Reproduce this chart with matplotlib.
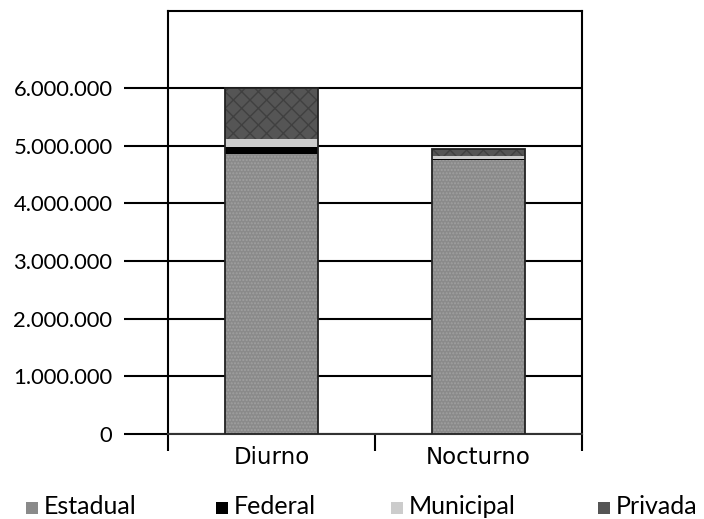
import matplotlib
matplotlib.use("Agg")
import matplotlib.pyplot as plt
from matplotlib.patches import Rectangle
import numpy as np

plt.rcParams["font.family"] = ["Lato", "DejaVu Sans"]

categories = ["Diurno", "Nocturno"]
series = ["Estadual", "Federal", "Municipal", "Privada"]
estadual = [4850000, 4750000]
federal = [130000, 20000]
municipal = [130000, 50000]
privada = [890000, 120000]
values = [estadual, federal, municipal, privada]

face = ["#8a8a8a", "#000000", "#cccccc", "#555555"]
hatch_col = ["#a0a0a0", "#000000", "#cccccc", "#404040"]
hatches = [".....", None, None, "xx"]

yticks = [0, 1000000, 2000000, 3000000, 4000000, 5000000, 6000000]
ytick_labels = ["0", "1.000.000", "2.000.000", "3.000.000", "4.000.000", "5.000.000", "6.000.000"]

fig = plt.figure(figsize=(7.04, 5.19), dpi=100)
ax = fig.add_axes([168 / 704, 1 - 434 / 519, 414 / 704, 423 / 519])

x = np.arange(len(categories))
bottom = np.zeros(len(categories))
for vals, fc, hc, h in zip(values, face, hatch_col, hatches):
    ax.bar(x, vals, width=0.45, bottom=bottom, color=fc, edgecolor=hc,
           hatch=h, linewidth=0, zorder=3)
    bottom += np.array(vals)
# outline of each stacked bar
ax.bar(x, bottom, width=0.45, fill=False, edgecolor="#222222", linewidth=1.3, zorder=4)

ax.set_xlim(-0.5, 1.5)
ax.set_ylim(0, 7335000)

ax.set_yticks(yticks)
ax.set_yticklabels(ytick_labels, fontsize=15.8)
ax.yaxis.grid(True, color="black", linewidth=1.5, zorder=1)
ax.tick_params(axis="y", length=32, width=1.5, pad=8, color="black")

ax.set_xticks(x)
ax.set_xticklabels(categories, fontsize=16.5, family=["DejaVu Sans"])
ax.tick_params(axis="x", length=0, pad=9)
ax.set_xticks([-0.5, 0.5, 1.5], minor=True)
ax.tick_params(axis="x", which="minor", length=12, width=1.5, color="black")

for s in ["top", "left", "right", "bottom"]:
    ax.spines[s].set_linewidth(1.5)
    ax.spines[s].set_color("black")
ax.spines["bottom"].set_color("#333333")

# legend along the bottom (text sits on the lower edge, as in the original)
leg_x = [26, 216, 391, 598]
for px, name, fc in zip(leg_x, series, face):
    fig.patches.append(Rectangle((px / 704, 1 - 514 / 519), 12 / 704, 12 / 519,
                                 transform=fig.transFigure, facecolor=fc,
                                 edgecolor="none"))
    fig.text((px + 18) / 704, 1 - 514 / 519, name, fontsize=18, va="baseline", ha="left")

fig.savefig("out.png", dpi=100)
